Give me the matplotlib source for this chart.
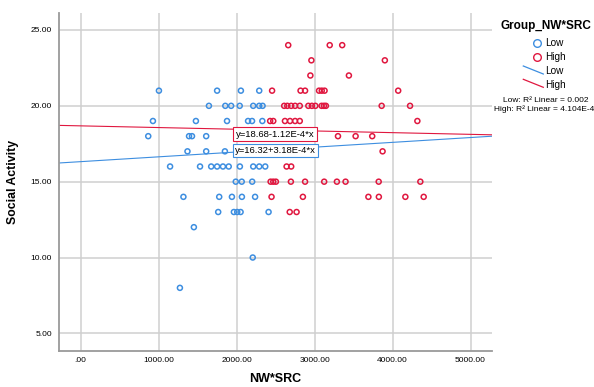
import numpy as np
import matplotlib
matplotlib.use("Agg")
import matplotlib.pyplot as plt
from matplotlib.lines import Line2D

plt.rcParams['font.family'] = ['Liberation Sans', 'DejaVu Sans']

# group "Low" points (NW*SRC, Social Activity)
low_x = [1004, 1750, 2055, 2290,
         1645, 1855, 1930, 2040, 2213, 2290, 2333,
         927, 1478, 1877, 2147, 2198, 2330,
         867, 1390, 1428, 1610,
         1370, 1610, 1850,
         1147, 1531, 1674, 1750, 1825, 1899, 2042, 2213, 2290, 2367,
         1989, 2066, 2200,
         1318, 1777, 1940, 2068, 2237,
         1764, 1965, 2008, 2051, 2410,
         1452, 2207, 1273]
low_y = [21, 21, 21, 21,
         20, 20, 20, 20, 20, 20, 20,
         19, 19, 19, 19, 19, 19,
         18, 18, 18, 18,
         17, 17, 17,
         16, 16, 16, 16, 16, 16, 16, 16, 16, 16,
         15, 15, 15,
         14, 14, 14, 14, 14,
         13, 13, 13, 13, 13,
         12, 10, 8]

# group "High" points
high_x = [2662, 3194, 3354,
          2959, 3901,
          2946, 3440,
          2455, 2820, 2878, 3057, 3092, 3128, 4072,
          2610, 2650, 2700, 2750, 2810, 2920, 2965, 3010, 3090, 3120, 3145, 3860, 4224,
          2430, 2470, 2620, 2685, 2750, 2810, 4318,
          3300, 3526, 3739,
          3872,
          2641, 2700,
          2436, 2470, 2504, 2696, 2878, 3123, 3286, 3397, 3822, 4356,
          2448, 2850, 3690, 3824, 4164, 4399,
          2681, 2769]
high_y = [24, 24, 24,
          23, 23,
          22, 22,
          21, 21, 21, 21, 21, 21, 21,
          20, 20, 20, 20, 20, 20, 20, 20, 20, 20, 20, 20, 20,
          19, 19, 19, 19, 19, 19, 19,
          18, 18, 18,
          17,
          16, 16,
          15, 15, 15, 15, 15, 15, 15, 15, 15, 15,
          14, 14, 14, 14, 14, 14,
          13, 13]

# fit lines: intercept, slope
low_fit = (16.32, 3.18e-4)
high_fit = (18.68, -1.12e-4)
low_eq = "y=16.32+3.18E-4*x"
high_eq = "y=18.68-1.12E-4*x"
low_r2 = "Low: R\u00b2 Linear = 0.002"
high_r2 = "High: R\u00b2 Linear = 4.104E-4"

x_ticks = [0, 1000, 2000, 3000, 4000, 5000]
x_labels = [".00", "1000.00", "2000.00", "3000.00", "4000.00", "5000.00"]
y_ticks = [5, 10, 15, 20, 25]
y_labels = ["5.00", "10.00", "15.00", "20.00", "25.00"]

blue = "#3d8ee0"
red = "#e0173f"
W, H = 594, 387


def fx(px):
    return px / W


def fy(py):
    return 1 - py / H


fig = plt.figure(figsize=(W / 100, H / 100), dpi=100)
ax = fig.add_axes([fx(58.8), fy(350.5), (492 - 58.8) / W, (350.5 - 13) / H])
ax.set_xlim(-280, 5275)
ax.set_ylim(3.87, 26.12)

ax.set_xticks(x_ticks)
ax.set_xticklabels(x_labels, fontsize=6)
ax.set_yticks(y_ticks)
ax.set_yticklabels(y_labels, fontsize=6)
ax.tick_params(length=0, pad=5)
ax.grid(True, color="#cfcfcf", linewidth=1.1)
ax.set_axisbelow(True)
for s in ["top", "right"]:
    ax.spines[s].set_visible(False)
for s in ["left", "bottom"]:
    ax.spines[s].set_color("#9a9a9a")
    ax.spines[s].set_linewidth(1.3)

ax.scatter(low_x, low_y, s=13, facecolors="none", edgecolors=blue, linewidths=1.1, zorder=3)
ax.scatter(high_x, high_y, s=13, facecolors="none", edgecolors=red, linewidths=1.1, zorder=3)

xs = np.array(ax.get_xlim())
ax.plot(xs, low_fit[0] + low_fit[1] * xs, color=blue, lw=0.8, zorder=2)
ax.plot(xs, high_fit[0] + high_fit[1] * xs, color=red, lw=0.8, zorder=2)

ax.text(1990, 18.14, high_eq, fontsize=6.8, ha="left", va="center", zorder=5,
        bbox=dict(boxstyle="square,pad=0.25", fc="white", ec=red, lw=0.8))
ax.text(1980, 17.05, low_eq, fontsize=6.8, ha="left", va="center", zorder=5,
        bbox=dict(boxstyle="square,pad=0.25", fc="white", ec=blue, lw=0.8))

ax.set_xlabel("NW*SRC", fontsize=9, fontweight="bold", labelpad=6)
ax.set_ylabel("Social Activity", fontsize=8.8, fontweight="bold", labelpad=8)

# legend drawn at the right
fig.text(fx(545.5), fy(25.5), "Group_NW*SRC", fontsize=8.5, fontweight="bold", ha="center", va="center")
fig.add_artist(Line2D([fx(536.7)], [fy(43.3)], marker="o", ms=5.5, mfc="none", mec=blue, mew=1.0))
fig.add_artist(Line2D([fx(536.7)], [fy(57.3)], marker="o", ms=5.5, mfc="none", mec=red, mew=1.0))
fig.add_artist(Line2D([fx(523.3), fx(543.3)], [fy(66), fy(74)], color=blue, lw=0.9))
fig.add_artist(Line2D([fx(523.3), fx(543.3)], [fy(79.3), fy(87.3)], color=red, lw=0.9))
for py, t in [(43.3, "Low"), (57.3, "High"), (71, "Low"), (85, "High")]:
    fig.text(fx(545.5), fy(py), t, fontsize=7.2, ha="left", va="center")
fig.text(fx(546), fy(100.7), low_r2, fontsize=6, ha="center", va="center")
fig.text(fx(544), fy(109.5), high_r2, fontsize=6, ha="center", va="center")

fig.savefig("out.png", dpi=100)
